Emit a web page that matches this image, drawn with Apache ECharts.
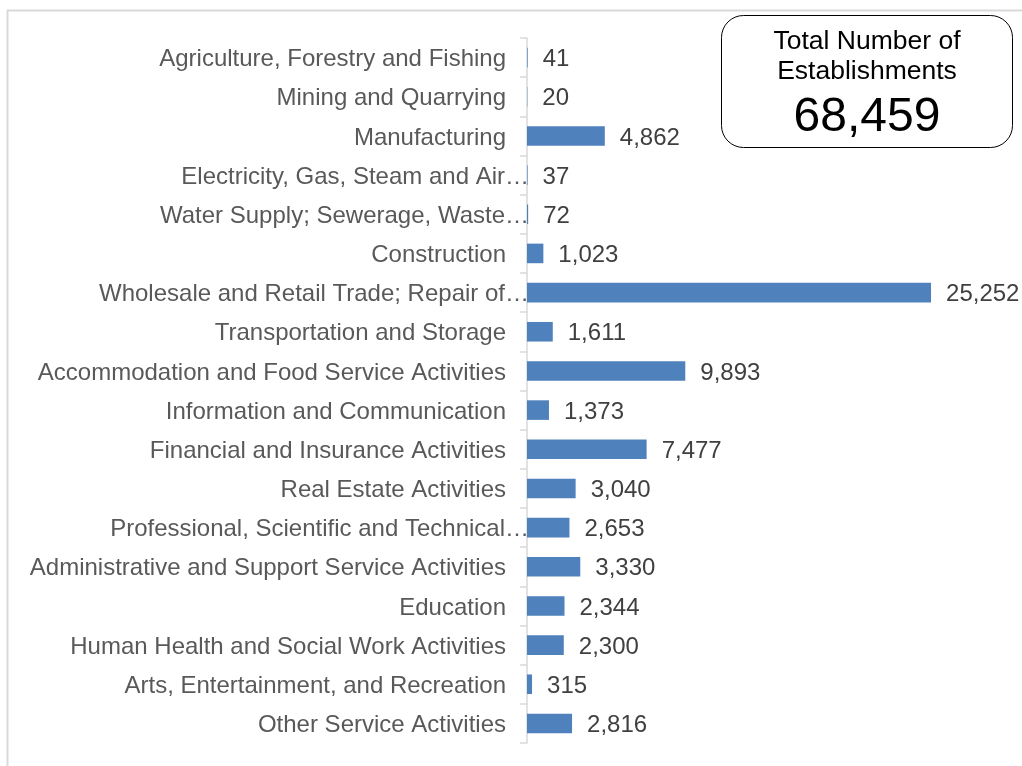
<!DOCTYPE html>
<html>
<head>
<meta charset="utf-8">
<script src="https://cdn.jsdelivr.net/npm/echarts@6/dist/echarts.min.js"></script>
<style>
  html, body { margin: 0; padding: 0; background: #ffffff; }
  #chart { width: 1022px; height: 766px; }
</style>
</head>
<body>
<div id="chart"></div>
<script>
// Industry sections, top to bottom
const industries = [
  'Agriculture, Forestry and Fishing',
  'Mining and Quarrying',
  'Manufacturing',
  'Electricity, Gas, Steam and Air…',
  'Water Supply; Sewerage, Waste…',
  'Construction',
  'Wholesale and Retail Trade; Repair of…',
  'Transportation and Storage',
  'Accommodation and Food Service Activities',
  'Information and Communication',
  'Financial and Insurance Activities',
  'Real Estate Activities',
  'Professional, Scientific and Technical…',
  'Administrative and Support Service Activities',
  'Education',
  'Human Health and Social Work Activities',
  'Arts, Entertainment, and Recreation',
  'Other Service Activities'
];

// Number of establishments per industry
const establishments = [
  41, 20, 4862, 37, 72, 1023, 25252, 1611, 9893, 1373,
  7477, 3040, 2653, 3330, 2344, 2300, 315, 2816
];

// Headline total shown in the callout box
const totalTitle = ['Total Number of', 'Establishments'];
const totalValue = 68459;

const FONT = "'Liberation Sans', Arial, sans-serif";
const fmt = v => v.toLocaleString('en-US');

const chart = echarts.init(document.getElementById('chart'), null, { renderer: 'canvas' });

chart.setOption({
  backgroundColor: '#ffffff',
  animation: false,
  grid: { left: 527, top: 38, height: 705, right: 15, containLabel: false },
  xAxis: {
    type: 'value',
    min: 0,
    max: 30000,
    show: false
  },
  yAxis: {
    type: 'category',
    inverse: true,
    data: industries,
    axisLine: { show: true, lineStyle: { color: '#d9d9d9', width: 1.5 } },
    axisTick: { show: true, length: 7, inside: false, lineStyle: { color: '#d9d9d9', width: 1.5 } },
    axisLabel: {
      margin: -2,
      fontFamily: FONT,
      fontSize: 24,
      color: '#595959',
      formatter: function (name) {
        return name.endsWith('…') ? '{t|' + name + '}' : '{n|' + name + '}';
      },
      rich: {
        n: { fontFamily: FONT, fontSize: 24, color: '#595959', padding: [4, 23, 0, 0] },
        t: { fontFamily: FONT, fontSize: 24, color: '#595959', padding: [4, 0, 0, 0] }
      }
    },
    splitLine: { show: false }
  },
  series: [{
    type: 'bar',
    data: establishments,
    barWidth: '50%',
    itemStyle: { color: '#4f81bd' },
    label: {
      show: true,
      position: 'right',
      distance: 15,
      offset: [0, 2],
      fontFamily: FONT,
      fontSize: 24,
      color: '#404040',
      formatter: p => fmt(p.value)
    }
  }],
  graphic: [
    {
      type: 'rect',
      left: 5,
      top: 8,
      shape: { width: 1100, height: 1000 },
      style: { fill: 'none', stroke: '#d9d9d9', lineWidth: 2 },
      z: 0
    },
    {
      type: 'group',
      left: 721,
      top: 15,
      children: [
        {
          type: 'rect',
          shape: { x: 0, y: 0, width: 291, height: 132, r: 22 },
          style: { fill: '#ffffff', stroke: '#000000', lineWidth: 1 }
        },
        {
          type: 'text',
          x: 145.5, y: 26,
          style: { text: totalTitle[0], font: '26.5px ' + FONT, fill: '#000000', align: 'center', verticalAlign: 'middle' }
        },
        {
          type: 'text',
          x: 145.5, y: 56,
          style: { text: totalTitle[1], font: '26.5px ' + FONT, fill: '#000000', align: 'center', verticalAlign: 'middle' }
        },
        {
          type: 'text',
          x: 145.5, y: 102.5,
          style: { text: fmt(totalValue), font: '48px ' + FONT, fill: '#000000', align: 'center', verticalAlign: 'middle' }
        }
      ]
    }
  ]
});
</script>
</body>
</html>
